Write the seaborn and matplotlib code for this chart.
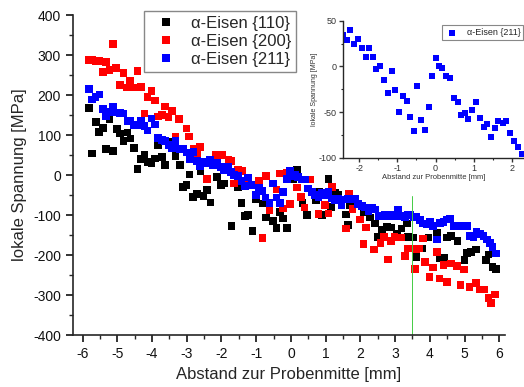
import numpy as np
import pandas as pd
import matplotlib
matplotlib.use("Agg")
import matplotlib.pyplot as plt
from matplotlib.ticker import MultipleLocator
import seaborn as sns

# alpha-Eisen {110}
x_110 = [-5.82, -5.72, -5.61, -5.53, -5.41, -5.32, -5.22, -5.13, -5.01, -4.92, -4.82, -4.71,
         -4.62, -4.52, -4.42, -4.33, -4.22, -4.12, -4.02, -3.91, -3.82, -3.71, -3.62, -3.42,
         -3.32, -3.20, -3.11, -3.01, -2.92, -2.82, -2.71, -2.60, -2.52, -2.42, -2.31, -2.12,
         -2.01, -1.92, -1.71, -1.52, -1.42, -1.32, -1.23, -1.11, -1.01, -0.82, -0.72, -0.52,
         -0.42, -0.31, -0.22, -0.11, 0.08, 0.17, 0.33, 0.46, 0.73, 0.81, 0.89, 1.08, 1.16,
         1.27, 1.37, 1.59, 1.65, 1.70, 2.11, 2.28, 2.42, 2.50, 2.62, 2.76, 2.90, 3.05, 3.19,
         3.34, 3.37, 3.53, 3.62, 3.77, 3.96, 4.20, 4.28, 4.41, 4.49, 4.61, 4.80, 5.00, 5.07,
         5.19, 5.33, 5.62, 5.69, 5.81, 5.91]
y_110 = [168, 54, 133, 108, 118, 66, 139, 60, 115, 104, 85, 107,
         92, 68, 15, 40, 50, 33, 29, 42, 75, 46, 25, 83,
         48, 25, -29, -25, 2, -54, -47, 11, -52, -37, -68, -4,
         -25, -21, -127, -31, -69, -102, -100, -140, -60, -71, -106, -115,
         -132, -92, -108, -132, -11, 14, -69, -100, -62, -42, -100, -10, -79,
         -44, -50, -98, -125, -75, -92, -106, -121, -154, -136, -129, -131, -146, -133,
         -121, -154, -156, -204, -183, -156, -144, -208, -206, -156, -152, -164, -212, -194,
         -192, -186, -212, -198, -229, -235]

# alpha-Eisen {200}
x_200 = [-5.82, -5.72, -5.63, -5.53, -5.41, -5.33, -5.22, -5.13, -5.03, -4.92, -4.82, -4.72,
         -4.63, -4.53, -4.42, -4.32, -4.22, -4.13, -4.01, -3.92, -3.82, -3.72, -3.62, -3.52,
         -3.42, -3.32, -3.22, -3.01, -2.93, -2.81, -2.71, -2.62, -2.42, -2.16, -1.97, -1.80,
         -1.71, -1.64, -1.52, -1.40, -1.25, -0.91, -0.82, -0.72, -0.62, -0.42, -0.31, -0.22,
         -0.12, -0.02, 0.18, 0.29, 0.39, 0.55, 0.79, 0.98, 1.08, 1.18, 1.59, 1.68, 1.77,
         1.99, 2.09, 2.16, 2.39, 2.58, 2.69, 2.79, 2.88, 2.98, 3.17, 3.29, 3.37, 3.58, 3.61,
         3.70, 3.80, 3.86, 3.99, 4.09, 4.20, 4.28, 4.39, 4.49, 4.61, 4.78, 4.89, 4.99, 5.14,
         5.33, 5.43, 5.56, 5.69, 5.77, 5.88]
y_200 = [287, 287, 285, 286, 257, 282, 262, 327, 268, 225, 256, 219,
         235, 219, 260, 221, 154, 195, 210, 187, 147, 150, 172, 145,
         160, 96, 141, 117, 97, 67, 54, 70, -9, 50, 50, 39,
         36, -21, 14, 10, -8, -14, -157, -2, -87, -36, 4, -83,
         6, -72, -31, -54, -81, -11, -97, -75, -96, -29, -133, -46, -85,
         -111, -172, -131, -186, -169, -154, -211, -165, -154, -156, -202, -183, -234, -185,
         -183, -158, -217, -254, -231, -192, -258, -225, -267, -221, -227, -275, -236, -279,
         -269, -286, -286, -307, -319, -298]

# alpha-Eisen {211}
x_211 = [-5.82, -5.72, -5.63, -5.51, -5.41, -5.32, -5.22, -5.13, -5.01, -4.92, -4.82, -4.71,
         -4.62, -4.52, -4.41, -4.32, -4.22, -4.13, -4.02, -3.92, -3.82, -3.72, -3.62, -3.52,
         -3.42, -3.32, -3.20, -3.11, -3.01, -2.91, -2.81, -2.71, -2.62, -2.52, -2.43, -2.33,
         -2.24, -2.12, -2.01, -1.92, -1.82, -1.73, -1.63, -1.52, -1.42, -1.32, -1.23, -1.13,
         -1.01, -0.92, -0.82, -0.73, -0.62, -0.52, -0.42, -0.31, -0.22, -0.11, -0.02, 0.08,
         0.12, 0.21, 0.31, 0.40, 0.50, 0.60, 0.70, 0.79, 0.89, 0.98, 1.08, 1.18, 1.27, 1.37,
         1.46, 1.56, 1.65, 1.75, 1.85, 1.94, 2.04, 2.14, 2.23, 2.33, 2.42, 2.52, 2.62, 2.71,
         2.81, 2.90, 3.00, 3.09, 3.19, 3.29, 3.38, 3.43, 3.53, 3.62, 3.72, 3.81, 3.91, 4.01,
         4.10, 4.20, 4.30, 4.39, 4.49, 4.59, 4.68, 4.78, 4.87, 4.97, 5.07, 5.16, 5.26, 5.35,
         5.45, 5.55, 5.64, 5.74, 5.81, 5.90]
y_211 = [215, 189, 196, 202, 165, 148, 158, 171, 157, 156, 154, 135,
         135, 125, 125, 135, 123, 112, 142, 127, 93, 88, 85, 75,
         68, 85, 65, 67, 57, 39, 58, 35, 22, 33, 29, 39,
         25, 31, 21, 12, 22, 8, 0, -2, -14, -27, -6, -25,
         -50, -31, -39, -56, -69, -21, -56, -69, -42, -10, 10, -2,
         0, -4, -11, -11, -33, -42, -50, -54, -44, -50, -42, -58, -62, -58,
         -75, -61, -58, -61, -58, -72, -77, -81, -89, -81, -86, -102, -102, -100,
         -102, -100, -102, -87, -102, -106, -100, -100, -104, -104, -112, -121, -122, -117,
         -127, -161, -119, -117, -111, -108, -127, -127, -127, -127, -127, -152, -156, -142,
         -147, -152, -161, -169, -179, -196]

# inset: alpha-Eisen {211}, central region
x_inset = [-2.42, -2.33, -2.23, -2.13, -2.04, -1.93, -1.83, -1.74, -1.65, -1.55, -1.46, -1.34,
           -1.25, -1.15, -1.05, -0.96, -0.85, -0.76, -0.67, -0.57, -0.48, -0.38, -0.28, -0.18,
           -0.08, 0.0, 0.08, 0.18, 0.28, 0.39, 0.49, 0.58, 0.68, 0.77, 0.86, 0.96, 1.07, 1.17,
           1.26, 1.36, 1.46, 1.56, 1.65, 1.76, 1.86, 1.96, 2.05, 2.15, 2.26]
y_inset = [34, 28.5, 40, 24, 30, 20, 10.5, 20, 10.5, -3, 0.5, -14.5,
           -29, -5, -26, -50.5, -32.5, -38, -55, -70.5, -22, -59, -70, -44,
           -10.5, 9.5, 0.5, -2, -10, -13, -34.5, -38.5, -53.5, -51, -57.5, -48, -39, -56,
           -66, -63.5, -77.5, -67, -59.5, -62.5, -60, -73.5, -82, -88.5, -95.5]

series_names = ["\u03b1-Eisen {110}", "\u03b1-Eisen {200}", "\u03b1-Eisen {211}"]
series_colors = ["#000000", "#ff0000", "#0000ff"]

df = pd.concat([
    pd.DataFrame({"x": x_110, "y": y_110, "phase": series_names[0]}),
    pd.DataFrame({"x": x_200, "y": y_200, "phase": series_names[1]}),
    pd.DataFrame({"x": x_211, "y": y_211, "phase": series_names[2]}),
], ignore_index=True)
df_inset = pd.DataFrame({"x": x_inset, "y": y_inset, "phase": series_names[2]})

sns.set_style("ticks")
plt.rcParams["font.family"] = ["Liberation Sans", "DejaVu Sans"]
plt.rcParams["axes.linewidth"] = 1.2
plt.rcParams["axes.unicode_minus"] = False

fig = plt.figure(figsize=(5.24, 3.87), dpi=100)
ax = fig.add_axes([0.139, 0.134, 0.825, 0.827])

sns.scatterplot(data=df, x="x", y="y", hue="phase", hue_order=series_names,
                palette=series_colors, marker="s", s=30, linewidth=0, ax=ax)

# Markierung bei 3.5 mm
ax.plot([3.5, 3.5], [-400, -52], color="#44cc44", lw=0.7, zorder=1)

ax.set_xlim(-6.28, 6.17)
ax.set_ylim(-400, 400)
ax.xaxis.set_major_locator(MultipleLocator(1))
ax.xaxis.set_minor_locator(MultipleLocator(0.5))
ax.yaxis.set_major_locator(MultipleLocator(100))
ax.yaxis.set_minor_locator(MultipleLocator(50))
ax.tick_params(which="major", direction="out", length=5, width=1.2, labelsize=10, colors="#111111")
ax.tick_params(which="minor", direction="out", length=3, width=1.0)
ax.set_xlabel("Abstand zur Probenmitte [mm]", fontsize=12, labelpad=4)
ax.set_ylabel("lokale Spannung [MPa]", fontsize=12, labelpad=4)
sns.despine(ax=ax)

handles, labels = ax.get_legend_handles_labels()
leg = ax.legend(handles, labels, loc="upper left", bbox_to_anchor=(0.2748, 0.9716),
                bbox_transform=fig.transFigure, borderaxespad=0, fontsize=12, frameon=True,
                fancybox=False, edgecolor="#888888", framealpha=1, handlelength=2.0,
                handletextpad=0.5, labelspacing=0.17, borderpad=0.3, markerscale=1.1)
leg.get_frame().set_linewidth(1.0)

# Inset
axi = fig.add_axes([0.655, 0.5925, 0.345, 0.354])
sns.scatterplot(data=df_inset, x="x", y="y", color="#0000ff", marker="s", s=14,
                linewidth=0, ax=axi, label=series_names[2])
axi.set_xlim(-2.42, 2.32)
axi.set_ylim(-100, 50)
axi.xaxis.set_major_locator(MultipleLocator(1))
axi.xaxis.set_minor_locator(MultipleLocator(0.5))
axi.yaxis.set_major_locator(MultipleLocator(50))
axi.yaxis.set_minor_locator(MultipleLocator(25))
axi.tick_params(which="major", direction="out", length=3, width=1.0, labelsize=6.5,
                colors="#333333", pad=1.5)
axi.tick_params(which="minor", direction="out", length=1.5, width=0.8)
axi.set_xlabel("Abstand zur Probenmitte [mm]", fontsize=5.5, labelpad=1, color="#333333")
axi.set_ylabel("lokale Spannung [MPa]", fontsize=5, labelpad=1, color="#333333")
for sp in ["left", "bottom"]:
    axi.spines[sp].set_linewidth(1.0)
sns.despine(ax=axi)
legi = axi.legend(loc="upper right", bbox_to_anchor=(1.02, 1.0), fontsize=6.5, frameon=True,
                  fancybox=False, edgecolor="#888888", framealpha=1, handlelength=1.6,
                  handletextpad=0.8, borderpad=0.3)
legi.get_frame().set_linewidth(0.8)

fig.savefig("out.png", dpi=100)
